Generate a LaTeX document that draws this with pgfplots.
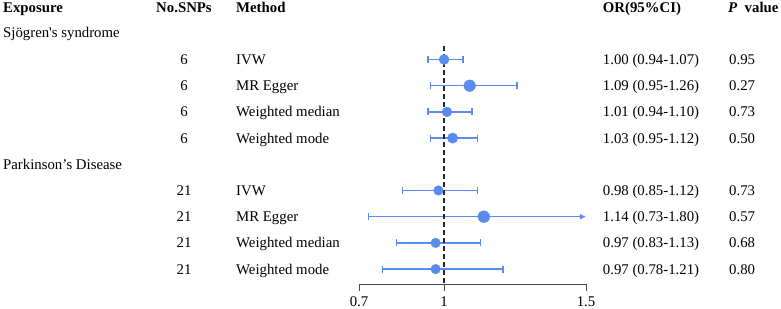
\documentclass[border=0pt]{standalone}
\usepackage{pgfplots}
\pgfplotsset{compat=1.18}
\usepackage{fontspec}
\setmainfont{Liberation Serif}
\usetikzlibrary{arrows.meta}
\definecolor{fp}{RGB}{90,140,240}
\begin{document}
\begin{tikzpicture}[every node/.style={font=\fontsize{14.8bp}{17bp}\selectfont, inner sep=0pt, text=black}]
\useasboundingbox (0,0) rectangle (781bp,-309bp);
\begin{axis}[
  at={(359bp,-284bp)}, anchor=south west,
  scale only axis, width=227bp, height=284bp,
  xmin=0.7, xmax=1.5, ymin=-284, ymax=0,
  axis x line*=bottom, axis y line=none,
  xtick={0.7,1,1.5}, xticklabels={0.7,1,1.5},
  xtick align=outside, major tick length=6.5bp,
  axis line style={draw=black!70, line width=0.9bp, -},
  every tick/.style={draw=black!70, line width=0.9bp},
  xticklabel style={font=\fontsize{14.8bp}{17bp}\selectfont, inner sep=0pt, yshift=-6bp},
  clip=false,
]
% confidence intervals (lower, upper), row y
\addplot[fp, line width=1.5bp, {Bar[width=7bp]}-{Bar[width=7bp]}] coordinates {(0.94,-59.5) (1.07,-59.5)};
\addplot[fp, line width=1.5bp, {Bar[width=7bp]}-{Bar[width=7bp]}] coordinates {(0.95,-85.7) (1.26,-85.7)};
\addplot[fp, line width=1.5bp, {Bar[width=7bp]}-{Bar[width=7bp]}] coordinates {(0.94,-111.9) (1.10,-111.9)};
\addplot[fp, line width=1.5bp, {Bar[width=7bp]}-{Bar[width=7bp]}] coordinates {(0.95,-138.1) (1.12,-138.1)};
\addplot[fp, line width=1.5bp, {Bar[width=7bp]}-{Bar[width=7bp]}] coordinates {(0.85,-190.5) (1.12,-190.5)};
\addplot[fp, line width=1.5bp, {Bar[width=7bp]}-{Latex[length=6bp,width=6bp]}] coordinates {(0.73,-216.7) (1.50,-216.7)};
\addplot[fp, line width=1.5bp, {Bar[width=7bp]}-{Bar[width=7bp]}] coordinates {(0.83,-242.9) (1.13,-242.9)};
\addplot[fp, line width=1.5bp, {Bar[width=7bp]}-{Bar[width=7bp]}] coordinates {(0.78,-269.1) (1.21,-269.1)};
% point estimates
\addplot[only marks, mark=*, mark size=5bp, fp] coordinates {(1.00,-59.5)};
\addplot[only marks, mark=*, mark size=5.8bp, fp] coordinates {(1.09,-85.7)};
\addplot[only marks, mark=*, mark size=4.9bp, fp] coordinates {(1.01,-111.9)};
\addplot[only marks, mark=*, mark size=5.2bp, fp] coordinates {(1.03,-138.1)};
\addplot[only marks, mark=*, mark size=4.8bp, fp] coordinates {(0.98,-190.5)};
\addplot[only marks, mark=*, mark size=5.9bp, fp] coordinates {(1.14,-216.7)};
\addplot[only marks, mark=*, mark size=4.8bp, fp] coordinates {(0.97,-242.9)};
\addplot[only marks, mark=*, mark size=4.8bp, fp] coordinates {(0.97,-269.1)};
% reference line
\addplot[black!85, line width=1.5bp, dash pattern=on 5bp off 3bp] coordinates {(1,-46) (1,-284)};
\end{axis}
% header
\node[anchor=base west] at (3bp,-12bp) {\bfseries Exposure};
\node[anchor=base] at (184bp,-12bp) {\bfseries No.SNPs};
\node[anchor=base west] at (236bp,-12bp) {\bfseries Method};
\node[anchor=base west] at (602.7bp,-12bp) {\bfseries OR(95\%CI)};
\node[anchor=base west] at (728bp,-12bp) {\textbf{\textit{P}}\ \ \textbf{value}};
% groups
\node[anchor=base west] at (3bp,-37bp) {Sjögren\textquotesingle s syndrome};
\node[anchor=base west] at (3bp,-169bp) {Parkinson’s Disease};
% rows
\foreach \y/\n/\m/\o/\p in {
  64.5/6/IVW/1.00 (0.94-1.07)/0.95,
  90.7/6/MR Egger/1.09 (0.95-1.26)/0.27,
  116.9/6/Weighted median/1.01 (0.94-1.10)/0.73,
  143.1/6/Weighted mode/1.03 (0.95-1.12)/0.50,
  195.5/21/IVW/0.98 (0.85-1.12)/0.73,
  221.7/21/MR Egger/1.14 (0.73-1.80)/0.57,
  247.9/21/Weighted median/0.97 (0.83-1.13)/0.68,
  274.1/21/Weighted mode/0.97 (0.78-1.21)/0.80}{
  \node[anchor=base] at (184bp,-\y bp) {\n};
  \node[anchor=base west] at (236bp,-\y bp) {\m};
  \node[anchor=base west] at (602.7bp,-\y bp) {\o};
  \node[anchor=base west] at (729bp,-\y bp) {\p};
}
\end{tikzpicture}
\end{document}
